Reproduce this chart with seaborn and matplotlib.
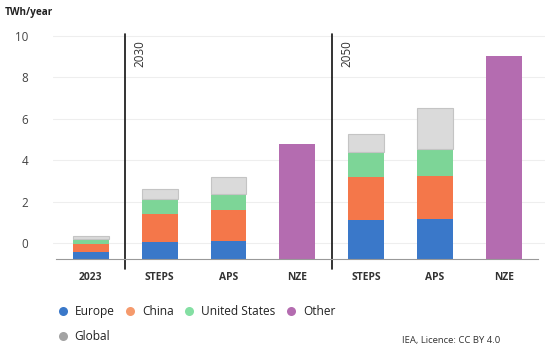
import numpy as np
import pandas as pd
import matplotlib
matplotlib.use('Agg')
import matplotlib.pyplot as plt
from matplotlib.lines import Line2D
import seaborn as sns

# -------------------------------------------------------
# DATA  (segment heights, TWh/year)
# -------------------------------------------------------
cats = ['2023', 'STEPS 2030', 'APS 2030', 'NZE 2030', 'STEPS 2050', 'APS 2050', 'NZE 2050']
tick_labels = ['2023', 'STEPS', 'APS', 'NZE', 'STEPS', 'APS', 'NZE']

europe = [0.35, 0.83, 0.88, 0.0, 1.90, 1.94, 0.0]
china = [0.41, 1.36, 1.49, 0.0, 2.06, 2.09, 0.0]
united_states = [0.22, 0.72, 0.79, 0.0, 1.20, 1.27, 0.0]
other = [0.0, 0.0, 0.0, 5.57, 0.0, 0.0, 9.81]
global_ = [0.13, 0.48, 0.79, 0.0, 0.90, 1.98, 0.0]

y_ticks = [0, 2, 4, 6, 8, 10]
period_labels = ['2030', '2050']

# -------------------------------------------------------
# STYLE
# -------------------------------------------------------
sns.set_style('white')
plt.rcParams['font.family'] = ['Open Sans', 'DejaVu Sans']

layers = [
    ('Europe', europe, '#3a78c9', '#3a78c9'),
    ('China', china, '#f4774a', '#f59a6c'),
    ('United States', united_states, '#7dd597', '#84dfa3'),
    ('Other', other, '#b46cb0', '#b46cb0'),
    ('Global', global_, '#dadada', '#a3a3a3'),
]

TICK_SHIFT = 0.77   # the reference prints its y labels offset from the bar baseline

fig = plt.figure(figsize=(5.5, 3.48), dpi=100)
ax = fig.add_axes([53 / 550, 1 - 259.3 / 348, 492 / 550, 228.25 / 348])

# -------------------------------------------------------
# STACKED BARS
# -------------------------------------------------------
bottom = np.zeros(len(cats))
for name, vals, col, _ in layers:
    vals = np.array(vals)
    df = pd.DataFrame({'cat': cats, 'value': vals, 'bottom': bottom})
    df = df[df['value'] > 0]
    kw = dict(edgecolor='#c4c4c4', linewidth=0.8) if name == 'Global' else dict(linewidth=0)
    sns.barplot(data=df, x='cat', y='value', order=cats, bottom=df['bottom'].values,
                color=col, width=0.52, errorbar=None, saturation=1, ax=ax, **kw)
    bottom = bottom + vals

# -------------------------------------------------------
# AXES
# -------------------------------------------------------
ax.set_xlim(-0.55, 6.6)
ax.set_ylim(0, 11)
ax.set_xlabel('')
ax.set_ylabel('')

ax.set_yticks(np.array(y_ticks) + TICK_SHIFT)
ax.set_yticklabels([str(t) for t in y_ticks], fontsize=8.4, color='#444444')
ax.yaxis.grid(True, color='#eeeeee', linewidth=0.8)
ax.set_axisbelow(True)
ax.tick_params(axis='y', length=0, pad=18)

ax.set_xticks(range(len(cats)))
ax.set_xticklabels(tick_labels, fontsize=7.4, fontweight='bold', color='#333333')
ax.set_xticks(np.arange(-0.5, len(cats)), minor=True)
ax.tick_params(axis='x', which='major', length=0, pad=9)
ax.tick_params(axis='x', which='minor', length=4, color='#999999', width=0.8)

for s in ['top', 'right', 'left']:
    ax.spines[s].set_visible(False)
ax.spines['bottom'].set_color('#999999')
ax.spines['bottom'].set_linewidth(0.8)
ax.spines['bottom'].set_bounds(-0.5, len(cats) - 0.5)

# period dividers
for xpos, lab in zip([0.5, 3.5], period_labels):
    ax.axvline(xpos, ymin=-0.042, ymax=0.987, color='#111111', linewidth=1.2, clip_on=False)
    ax.annotate(lab, xy=(xpos, 10.55), xytext=(6, 0), textcoords='offset points',
                rotation=90, ha='left', va='top', fontsize=8.4, color='#333333')

# -------------------------------------------------------
# TEXT + LEGEND
# -------------------------------------------------------
fig.text(5 / 550, 1 - 12 / 348, 'TWh/year', fontsize=7.2, fontweight='bold',
         color='#222222', va='center', ha='left')
fig.text(500 / 550, 1 - 341 / 348, 'IEA, Licence: CC BY 4.0', fontsize=6.8,
         color='#333333', ha='right', va='center')

handles = {name: Line2D([], [], marker='o', linestyle='', markersize=6.5,
                        markerfacecolor=mcol, markeredgewidth=0, label=name)
           for name, _, _, mcol in layers}
order = ['Europe', 'Global', 'China', 'United States', 'Other']
fig.legend([handles[n] for n in order], order, ncol=4, frameon=False,
           loc='upper left', bbox_to_anchor=(40 / 550, 1 - 294 / 348),
           handletextpad=0.0, columnspacing=0.3, labelspacing=1.0,
           labelcolor='#222222', prop={'size': 8.6})

fig.savefig('out.png', dpi=100)
